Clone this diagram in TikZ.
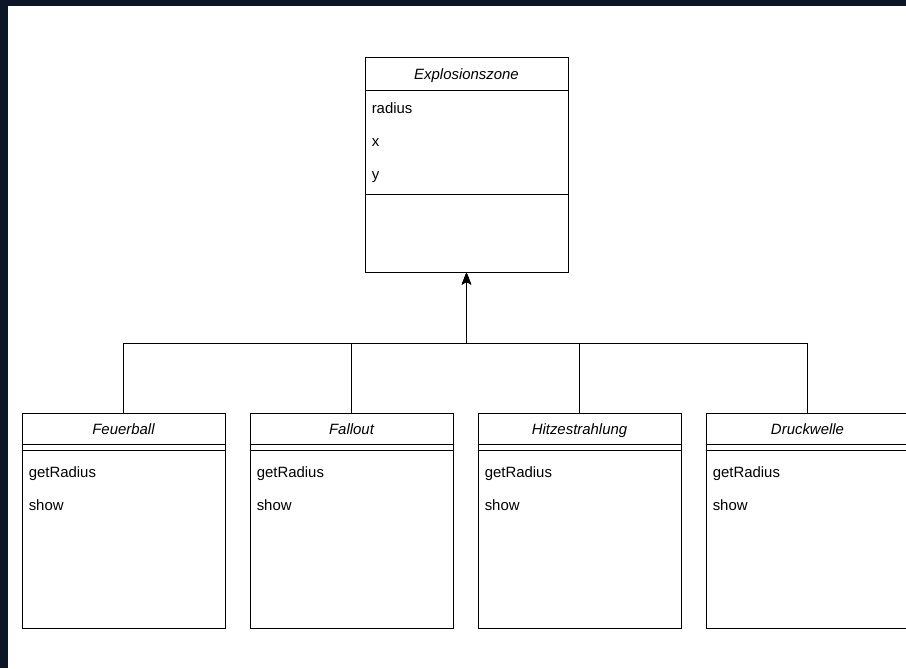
\documentclass[tikz,border=0pt]{standalone}
\usepackage{fontspec}
\setmainfont{Liberation Sans}
\usepackage{tikz}
\definecolor{frame}{RGB}{13,22,38}
\usetikzlibrary{arrows.meta,positioning}

\begin{document}
\begin{tikzpicture}[x=0.75pt,y=-0.75pt,
        font=\fontsize{11.2}{13}\selectfont,
        umlbox/.style={draw=black,fill=white,line width=0.75pt,minimum width=152.25pt,minimum height=161.25pt,inner sep=0pt},
        title/.style={font=\fontsize{11.2}{13}\selectfont\itshape,inner sep=0pt,text height=8pt,text depth=2.4pt},
        member/.style={anchor=west,inner sep=0pt,text height=8pt,text depth=2.4pt},
        rule/.style={draw=black,line width=0.75pt},
        inherit/.style={draw=black,line width=0.75pt,-{Stealth[length=9pt,width=7pt,inset=2pt]}}]
        % background and dark frame
        \fill[white] (0,0) rectangle (906,668);
        \fill[frame] (0,0) rectangle (8,668);
        \fill[frame] (0,0) rectangle (906,6);
        \useasboundingbox (0,0) rectangle (906,668);

        % parent class
        \node[umlbox] (zone) at (466.5,164.5) {};
        \draw[rule] (zone.north west) ++(0,34) -- ++(203,0);
        \draw[rule] (zone.north west) ++(0,138) -- ++(203,0);
        \path (zone.north) ++(0,19) node[title] (zonehead) {Explosionszone};
        \path (zone.north west) ++(7,53) node[member] (zoneradius) {radius};
        \path (zone.north west) ++(7,86) node[member] (zonex) {x};
        \path (zone.north west) ++(7,119) node[member] (zoney) {y};

        % subclasses
        \node[umlbox] (feuer) at (123.5,520.5) {};
        \draw[rule] (feuer.north west) ++(0,32) -- ++(203,0);
        \draw[rule] (feuer.north west) ++(0,37.5) -- ++(203,0);
        \path (feuer.north) ++(0,18) node[title] (feuerhead) {Feuerball};
        \path (feuer.north west) ++(7,61) node[member] (feuerget) {getRadius};
        \path (feuer.north west) ++(7,94) node[member] (feuershow) {show};

        \node[umlbox] (fall) at (351.5,520.5) {};
        \draw[rule] (fall.north west) ++(0,32) -- ++(203,0);
        \draw[rule] (fall.north west) ++(0,37.5) -- ++(203,0);
        \path (fall.north) ++(0,18) node[title] (fallhead) {Fallout};
        \path (fall.north west) ++(7,61) node[member] (fallget) {getRadius};
        \path (fall.north west) ++(7,94) node[member] (fallshow) {show};

        \node[umlbox] (hitze) at (579.5,520.5) {};
        \draw[rule] (hitze.north west) ++(0,32) -- ++(203,0);
        \draw[rule] (hitze.north west) ++(0,37.5) -- ++(203,0);
        \path (hitze.north) ++(0,18) node[title] (hitzehead) {Hitzestrahlung};
        \path (hitze.north west) ++(7,61) node[member] (hitzeget) {getRadius};
        \path (hitze.north west) ++(7,94) node[member] (hitzeshow) {show};

        \node[umlbox] (druck) at (807.5,520.5) {};
        \draw[rule] (druck.north west) ++(0,32) -- ++(203,0);
        \draw[rule] (druck.north west) ++(0,37.5) -- ++(203,0);
        \path (druck.north) ++(0,18) node[title] (druckhead) {Druckwelle};
        \path (druck.north west) ++(7,61) node[member] (druckget) {getRadius};
        \path (druck.north west) ++(7,94) node[member] (druckshow) {show};

        % inheritance
        \coordinate (bus) at (466.5,343);
        \draw[inherit] (feuer.north) |- (bus) -- (zone.south);
        \draw[inherit] (fall.north) |- (bus) -- (zone.south);
        \draw[inherit] (hitze.north) |- (bus) -- (zone.south);
        \draw[inherit] (druck.north) |- (bus) -- (zone.south);
    \end{tikzpicture}
\end{document}
